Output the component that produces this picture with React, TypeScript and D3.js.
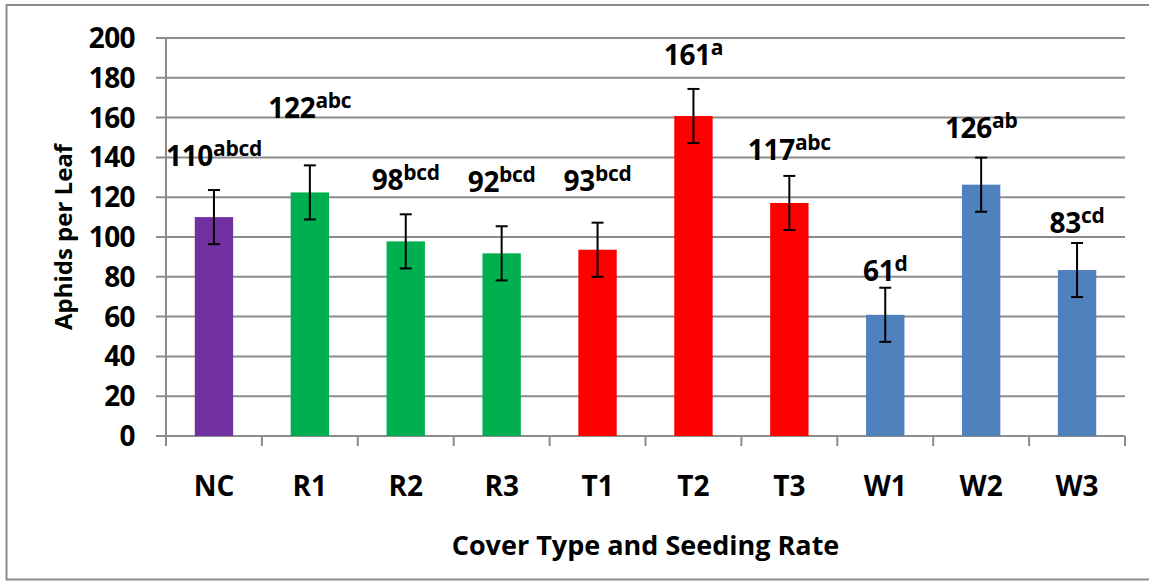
import React from "react";
import * as d3 from "d3";

const categories = ["NC", "R1", "R2", "R3", "T1", "T2", "T3", "W1", "W2", "W3"];
const values = [110.0, 122.4, 97.8, 91.8, 93.6, 160.8, 117.1, 60.9, 126.3, 83.4];
const errors = [13.6, 13.6, 13.6, 13.6, 13.6, 13.6, 13.6, 13.6, 13.6, 13.6];
const labelNumbers = ["110", "122", "98", "92", "93", "161", "117", "61", "126", "83"];
const labelLetters = ["abcd", "abc", "bcd", "bcd", "bcd", "a", "abc", "d", "ab", "cd"];
// height (in data units) at which each treatment's label baseline sits
const labelLevels = [135.7, 159.8, 123.6, 122.6, 123.1, 186.4, 138.7, 77.9, 149.7, 102];
const colors = ["#7030A0", "#00B050", "#00B050", "#00B050", "#FF0000", "#FF0000", "#FF0000", "#4F81BD", "#4F81BD", "#4F81BD"];
const yTicks = [0, 20, 40, 60, 80, 100, 120, 140, 160, 180, 200];

const W = 1149;
const H = 581;
const plot = { left: 166, right: 1125, top: 38, bottom: 436 };
const FONT = "'Open Sans', Lato, sans-serif";

export default function App() {
  const x = d3.scaleBand<string>().domain(categories).range([plot.left, plot.right]).paddingInner(0).paddingOuter(0);
  const y = d3.scaleLinear().domain([0, 200]).range([plot.bottom, plot.top]);
  const bw = x.bandwidth() * 0.4;
  const grid = "#8c8c8c";
  const boundaries = d3.range(categories.length + 1).map((i) => plot.left + i * x.bandwidth());

  return (
    <svg width={W} height={H} style={{ position: "absolute", left: 0, top: 0, background: "#fff" }} fontFamily={FONT}>
      <rect x={6.5} y={5} width={1160} height={574.5} fill="#fff" stroke={grid} strokeWidth={2} />
      {yTicks.map((t) => (
        <g key={t}>
          <line x1={plot.left - 10} x2={plot.right} y1={y(t)} y2={y(t)} stroke={grid} strokeWidth={2} />
          <text x={135} y={y(t) + 10} textAnchor="end" fontSize={28} fontWeight={700} fill="#000" letterSpacing={-0.6}>
            {t}
          </text>
        </g>
      ))}
      <line x1={plot.left} x2={plot.left} y1={plot.top} y2={plot.bottom + 10} stroke={grid} strokeWidth={2} />
      {boundaries.map((bx, i) => (
        <line key={i} x1={bx} x2={bx} y1={plot.bottom} y2={plot.bottom + 10} stroke={grid} strokeWidth={2} />
      ))}
      {categories.map((c, i) => {
        const cx = (x(c) as number) + x.bandwidth() / 2;
        const top = y(values[i] + errors[i]);
        const bot = y(values[i] - errors[i]);
        return (
          <g key={c}>
            <rect x={cx - bw / 2} y={y(values[i])} width={bw} height={plot.bottom - y(values[i])} fill={colors[i]} />
            <line x1={cx} x2={cx} y1={top} y2={bot} stroke="#000" strokeWidth={2} />
            <line x1={cx - 6} x2={cx + 6} y1={top} y2={top} stroke="#000" strokeWidth={2} />
            <line x1={cx - 6} x2={cx + 6} y1={bot} y2={bot} stroke="#000" strokeWidth={2} />
            <text x={cx} y={y(labelLevels[i])} textAnchor="middle" fontSize={28} fontWeight={700} fill="#000" letterSpacing={-0.3}>
              {labelNumbers[i]}
              <tspan fontSize={21} dy={-10}>
                {labelLetters[i]}
              </tspan>
            </text>
            <text x={cx} y={496} textAnchor="middle" fontSize={28} fontWeight={700} fill="#000">
              {c}
            </text>
          </g>
        );
      })}
      <text
        transform={`translate(72, ${(plot.top + plot.bottom) / 2}) rotate(-90)`}
        textAnchor="middle"
        fontSize={24}
        fontWeight={700}
        fill="#000"
      >
        Aphids per Leaf
      </text>
      <text x={(plot.left + plot.right) / 2} y={555} textAnchor="middle" fontSize={27} fontWeight={700} fill="#000">
        Cover Type and Seeding Rate
      </text>
    </svg>
  );
}
